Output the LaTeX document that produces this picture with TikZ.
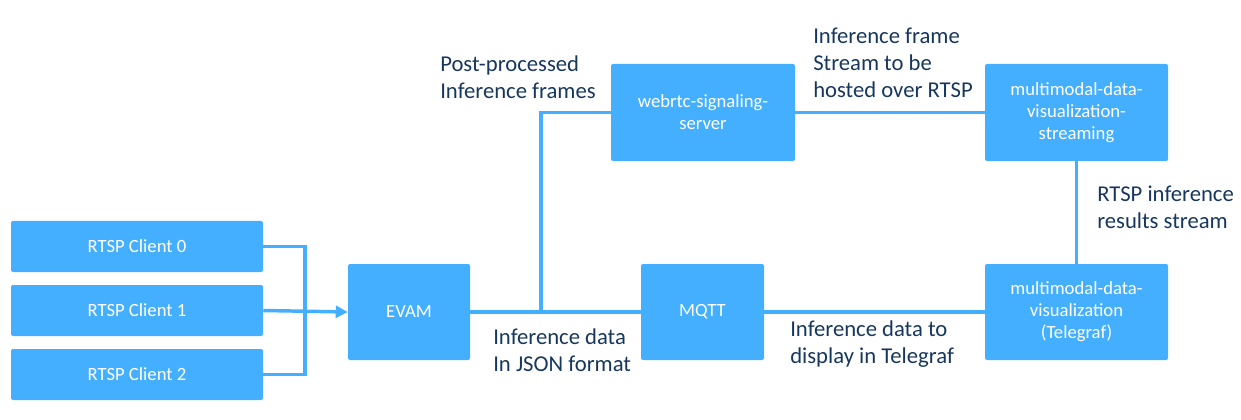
\documentclass[tikz,border=0pt]{standalone}
\usepackage{fontspec}
\setmainfont{Carlito}
\usetikzlibrary{positioning}
\usetikzlibrary{arrows.meta}

\definecolor{boxblue}{RGB}{69,175,255}
\definecolor{noteblue}{RGB}{23,55,94}

\begin{document}
\begin{tikzpicture}[
    x=0.75pt, y=-0.75pt,
    box/.style={fill=boxblue, rounded corners=1.5pt, text=white, align=center,
      inner sep=2pt, font=\fontsize{14}{16.5}\selectfont},
    note/.style={anchor=north west, inner sep=0pt, align=left, text=noteblue,
      font=\fontsize{17}{20.25}\selectfont},
    link/.style={draw=boxblue, line width=2.6pt},
    >={Stealth[length=9pt, width=9pt, inset=0pt]}
  ]
  \useasboundingbox (0,0) rectangle (1241,420);

  \node[box, minimum width=189pt, minimum height=38.25pt] (c0) at (137,246.5) {RTSP Client 0};
  \node[box, minimum width=189pt, minimum height=38.25pt] (c1) at (137,310.5) {RTSP Client 1};
  \node[box, minimum width=189pt, minimum height=38.25pt] (c2) at (137,374.5) {RTSP Client 2};

  \node[box, minimum width=91.5pt, minimum height=72pt] (evam) at (409,312) {EVAM};
  \node[box, minimum width=92.25pt, minimum height=72pt] (mqtt) at (702.5,312) {MQTT};
  \node[box, minimum width=138pt, minimum height=72.75pt] (web) at (703,112.5) {webrtc-signaling-\\server};
  \node[box, minimum width=137.25pt, minimum height=72.75pt] (strm) at (1076.5,112.5) {multimodal-data-\\visualization-\\streaming};
  \node[box, minimum width=137.25pt, minimum height=72pt] (tel) at (1076.5,312) {multimodal-data-\\visualization\\(Telegraf)};

  \coordinate (bus) at (305,311);
  \coordinate (split) at (541,312);

  \draw[link] (c0.east) -| (bus) |- (c2.east);
  \draw[link, ->] (c1.east) -- (evam.west);
  \draw[link] (evam.east) -- (mqtt.west);
  \draw[link] (split) |- (web.west);
  \draw[link] (web.east) -- (strm.west);
  \draw[link] (mqtt.east) -- (tel.west);
  \draw[link] (strm.south) -- (tel.north);

  \node[note] (postlbl) at (440,55) {Post-processed\\Inference frames};
  \node[note] (hostlbl) at (813,28) {Inference frame\\Stream to be\\hosted over RTSP};
  \node[note] (rtsplbl) at (1097,186) {RTSP inference\\results stream};
  \node[note] (jsonlbl) at (493,328) {Inference data\\In JSON format};
  \node[note] (tglbl) at (790,320) {Inference data to\\display in Telegraf};
\end{tikzpicture}
\end{document}
